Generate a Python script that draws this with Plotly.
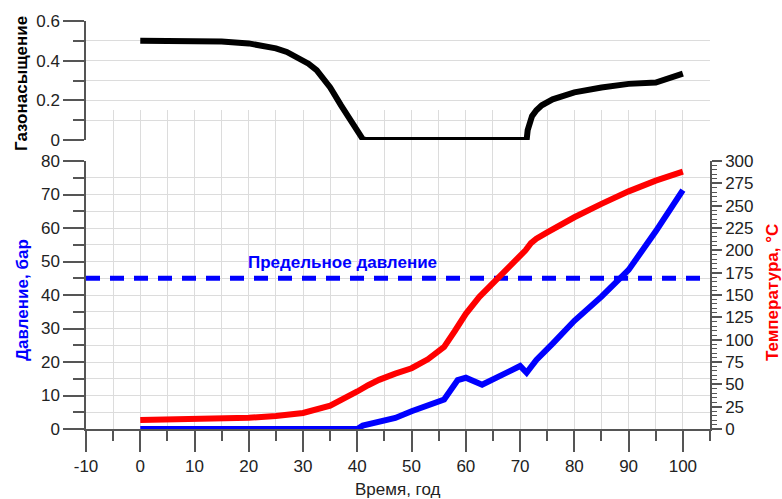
import plotly.graph_objects as go

# ---------------- data ----------------
sat_years = [0, 10, 15, 20, 23, 25, 27, 29.5, 31, 32.5, 34, 35, 37, 39, 40.2, 41, 41.6,
             71.2, 71.4, 71.7, 72.2, 73, 74, 76, 78, 80, 85, 90, 95, 100]
sat_values = [0.50, 0.499, 0.497, 0.487, 0.475, 0.462, 0.444, 0.41, 0.385, 0.352, 0.305, 0.265,
              0.175, 0.085, 0.035, 0.005, 0.0,
              0.0, 0.05, 0.09, 0.12, 0.15, 0.175, 0.205, 0.225, 0.24, 0.265, 0.283, 0.29, 0.335]

p_years = [0, 40, 41, 44, 47, 50, 53, 56, 58.5, 60, 63, 66, 69, 70, 71.2, 73, 76, 80, 85, 90, 95, 100]
p_values = [0, 0, 1.0, 2.2, 3.3, 5.3, 7.0, 8.8, 14.6, 15.3, 13.2, 15.8, 18.2, 18.8, 16.8, 20.6,
            25.5, 32.3, 39.5, 47.5, 59.0, 71.3]

t_years = [0, 10, 20, 25, 30, 35, 38, 40, 42, 44, 47, 50, 53, 56, 58, 60, 62.5, 65, 67.5, 70,
           71, 72, 73, 75, 80, 85, 90, 95, 100]
t_values = [10, 10.5, 12.5, 14.5, 18, 26, 35, 42, 49, 55, 62, 68, 78, 92, 110, 129, 148, 163,
            180, 194, 200, 208, 213, 220, 237, 252, 266, 278, 288]

limit_years = [-10, 104]
limit_pressure = [45, 45]

x_tickvals = [-10, 0, 10, 20, 30, 40, 50, 60, 70, 80, 90, 100]
x_ticktext = ["-10", "0", "10", "20", "30", "40", "50", "60", "70", "80", "90", "100"]

# ---------------- layout helpers ----------------
W, H = 782, 499
FONT = "Liberation Sans, Arial, sans-serif"
AXC = "#555555"
GRID = "#dcdcdc"


def px_x(p):
    return p / W


def px_y(p):
    return 1 - p / H


XDOM = [px_x(86), px_x(710)]
XRANGE = [-10, 105]

fig = go.Figure()

# grid-only subplot (vertical grid lines spanning the lower panel)
fig.add_trace(go.Scatter(x=[None], y=[None], xaxis="x", yaxis="y", showlegend=False,
                         hoverinfo="skip"))

# lower panel
fig.add_trace(go.Scatter(x=limit_years, y=limit_pressure, xaxis="x2", yaxis="y2", mode="lines",
                         line=dict(color="#0000ff", width=5, dash="14px,10px"),
                         showlegend=False))
fig.add_trace(go.Scatter(x=t_years, y=t_values, xaxis="x2", yaxis="y3", mode="lines",
                         line=dict(color="#ff0000", width=6), showlegend=False))
fig.add_trace(go.Scatter(x=p_years, y=p_values, xaxis="x2", yaxis="y2", mode="lines",
                         line=dict(color="#0000ff", width=6), showlegend=False))

# upper panel
fig.add_trace(go.Scatter(x=sat_years, y=sat_values, xaxis="x3", yaxis="y4", mode="lines",
                         line=dict(color="#000000", width=6), showlegend=False))

tickfont = dict(family=FONT, size=17, color="#222222")

fig.update_layout(
    template="none",
    width=W, height=H, autosize=False,
    margin=dict(l=0, r=0, t=0, b=0, pad=0, autoexpand=False),
    paper_bgcolor="white", plot_bgcolor="rgba(0,0,0,0)",
    font=dict(family=FONT, size=17, color="#222222"),
    xaxis=dict(domain=XDOM, range=XRANGE, anchor="y", showgrid=True, gridcolor=GRID,
               gridwidth=1, tick0=0, dtick=5, showticklabels=False, ticks="",
               showline=False, zeroline=False, automargin=False),
    yaxis=dict(domain=[px_y(429), px_y(110)], range=[0, 1], anchor="x", visible=False,
               automargin=False),
    xaxis2=dict(domain=XDOM, range=XRANGE, anchor="y2", showgrid=False, zeroline=False,
                showline=True, linecolor=AXC, linewidth=1.5, automargin=False,
                tickmode="array", tickvals=x_tickvals, ticktext=x_ticktext,
                ticks="outside", ticklen=21, tickcolor=AXC, tickwidth=1.5,
                minor=dict(tickmode="linear", tick0=0, dtick=5, ticks="outside",
                           ticklen=10, tickcolor=AXC, tickwidth=1.5, showgrid=False),
                tickfont=tickfont),
    yaxis2=dict(domain=[px_y(429), px_y(161)], range=[0, 80], anchor="x2", automargin=False,
                tick0=0, dtick=10, ticks="outside", ticklen=21, tickcolor=AXC, tickwidth=1.5,
                showline=True, linecolor=AXC, linewidth=1.5, zeroline=False,
                showgrid=True, gridcolor=GRID, gridwidth=1,
                minor=dict(tick0=0, dtick=5, ticks="outside", ticklen=11, tickcolor=AXC,
                           tickwidth=1.5, showgrid=True, gridcolor=GRID, gridwidth=1),
                tickfont=tickfont),
    yaxis3=dict(overlaying="y2", side="right", anchor="x2", range=[0, 300], automargin=False,
                tick0=0, dtick=25, ticks="outside", ticklen=10, tickcolor=AXC, tickwidth=1.5,
                showline=True, linecolor=AXC, linewidth=1.5, zeroline=False, showgrid=False,
                minor=dict(tick0=0, dtick=5, ticks="outside", ticklen=5, tickcolor=AXC,
                           tickwidth=1, showgrid=False),
                tickfont=tickfont),
    xaxis3=dict(domain=XDOM, range=XRANGE, anchor="y4", visible=False, automargin=False),
    yaxis4=dict(domain=[px_y(140), px_y(21)], range=[0, 0.6], anchor="x3", automargin=False,
                tick0=0, dtick=0.2, ticks="outside", ticklen=21, tickcolor=AXC, tickwidth=1.5,
                showline=True, linecolor=AXC, linewidth=1.5, zeroline=False,
                showgrid=True, gridcolor=GRID, gridwidth=1,
                minor=dict(tick0=0, dtick=0.1, ticks="outside", ticklen=11, tickcolor=AXC,
                           tickwidth=1.5, showgrid=True, gridcolor=GRID, gridwidth=1),
                tickfont=tickfont),
    annotations=[
        dict(text="<b>Газонасыщение</b>", xref="paper", yref="paper", x=px_x(22), y=px_y(84),
             textangle=-90, showarrow=False, font=dict(family=FONT, size=17, color="#000000"),
             xanchor="center", yanchor="middle"),
        dict(text="<b>Давление, бар</b>", xref="paper", yref="paper", x=px_x(22), y=px_y(300),
             textangle=-90, showarrow=False, font=dict(family=FONT, size=17, color="#0000ff"),
             xanchor="center", yanchor="middle"),
        dict(text="<b>Температура, °С</b>", xref="paper", yref="paper", x=px_x(772),
             y=px_y(293), textangle=-90, showarrow=False,
             font=dict(family=FONT, size=17, color="#ff0000"),
             xanchor="center", yanchor="middle"),
        dict(text="Время, год", xref="paper", yref="paper", x=px_x(397), y=px_y(489),
             showarrow=False, font=dict(family=FONT, size=17, color="#222222"),
             xanchor="center", yanchor="middle"),
        dict(text="<b>Предельное давление</b>", xref="x2", yref="y2", x=37.2, y=49.6,
             showarrow=False, font=dict(family=FONT, size=17, color="#0000ff"),
             xanchor="center", yanchor="middle"),
    ],
)

fig.write_html(
    "out.html",
    config={"displayModeBar": False},
    post_script="document.body.style.margin='0';document.body.style.overflow='hidden';",
)
